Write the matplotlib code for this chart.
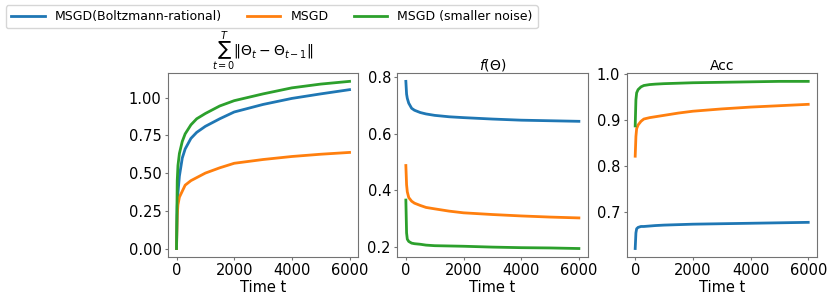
import matplotlib.pyplot as plt
import numpy as np

# sample times (iterations)
t = [0, 25, 50, 100, 200, 300, 500, 700, 1000, 1500, 2000, 3000, 4000, 5000, 6000]

# cumulative path length  sum ||Theta_t - Theta_{t-1}||
path_boltz = [0.0, 0.28, 0.37, 0.48, 0.60, 0.66, 0.73, 0.77, 0.81, 0.86, 0.905, 0.955, 0.995, 1.025, 1.053]
path_msgd = [0.0, 0.22, 0.29, 0.34, 0.38, 0.42, 0.45, 0.47, 0.50, 0.535, 0.565, 0.59, 0.61, 0.625, 0.637]
path_small = [0.0, 0.45, 0.55, 0.63, 0.71, 0.76, 0.82, 0.86, 0.895, 0.945, 0.98, 1.025, 1.065, 1.09, 1.108]

# loss f(Theta)
loss_boltz = [0.785, 0.74, 0.725, 0.708, 0.69, 0.683, 0.675, 0.67, 0.665, 0.66, 0.657, 0.652, 0.648, 0.646, 0.644]
loss_msgd = [0.488, 0.42, 0.395, 0.375, 0.362, 0.355, 0.347, 0.34, 0.335, 0.327, 0.321, 0.315, 0.31, 0.306, 0.303]
loss_small = [0.366, 0.25, 0.228, 0.22, 0.214, 0.212, 0.21, 0.207, 0.205, 0.204, 0.203, 0.2, 0.198, 0.197, 0.195]

# accuracy
acc_boltz = [0.621, 0.655, 0.664, 0.667, 0.669, 0.669, 0.67, 0.671, 0.672, 0.673, 0.674, 0.675, 0.676, 0.677, 0.678]
acc_msgd = [0.822, 0.865, 0.882, 0.89, 0.898, 0.903, 0.906, 0.908, 0.911, 0.916, 0.92, 0.925, 0.929, 0.932, 0.935]
acc_small = [0.888, 0.945, 0.96, 0.967, 0.973, 0.976, 0.978, 0.979, 0.98, 0.981, 0.982, 0.983, 0.984, 0.985, 0.985]

labels = ['MSGD(Boltzmann-rational)', 'MSGD', 'MSGD (smaller noise)']
titles = [r'$\sum_{t=0}^{T}\|\Theta_t - \Theta_{t-1}\|$', r'$f(\Theta)$', 'Acc']
colors = ['#1f77b4', '#ff7f0e', '#2ca02c']

plt.rcParams['font.size'] = 10.5

fig, axes = plt.subplots(1, 3, figsize=(8.31, 2.98), dpi=100)
fig.subplots_adjust(left=0.202, right=0.983, bottom=0.138, top=0.755, wspace=0.205)

panels = [
    (path_boltz, path_msgd, path_small),
    (loss_boltz, loss_msgd, loss_small),
    (acc_boltz, acc_msgd, acc_small),
]

for ax, data, title in zip(axes, panels, titles):
    for y, c, lab in zip(data, colors, labels):
        ax.plot(t, y, color=c, lw=2, label=lab)
    ax.set_title(title, fontsize=10, pad=2.5)
    ax.set_xlabel('Time t', labelpad=1)
    ax.set_xticks([0, 2000, 4000, 6000])
    for sp in ax.spines.values():
        sp.set_color('0.45')
    ax.tick_params(color='0.45', length=2.5, pad=2)

axes[0].set_yticks([0.0, 0.25, 0.5, 0.75, 1.0])
axes[1].set_yticks([0.2, 0.4, 0.6, 0.8])
axes[2].set_yticks([0.7, 0.8, 0.9, 1.0])

handles, labs = axes[0].get_legend_handles_labels()
fig.legend(handles, labs, loc='upper left', bbox_to_anchor=(0.007, 0.983),
           ncol=3, borderaxespad=0, fontsize=9, handlelength=2.7, columnspacing=2.0)

plt.savefig('out.png', dpi=100)
